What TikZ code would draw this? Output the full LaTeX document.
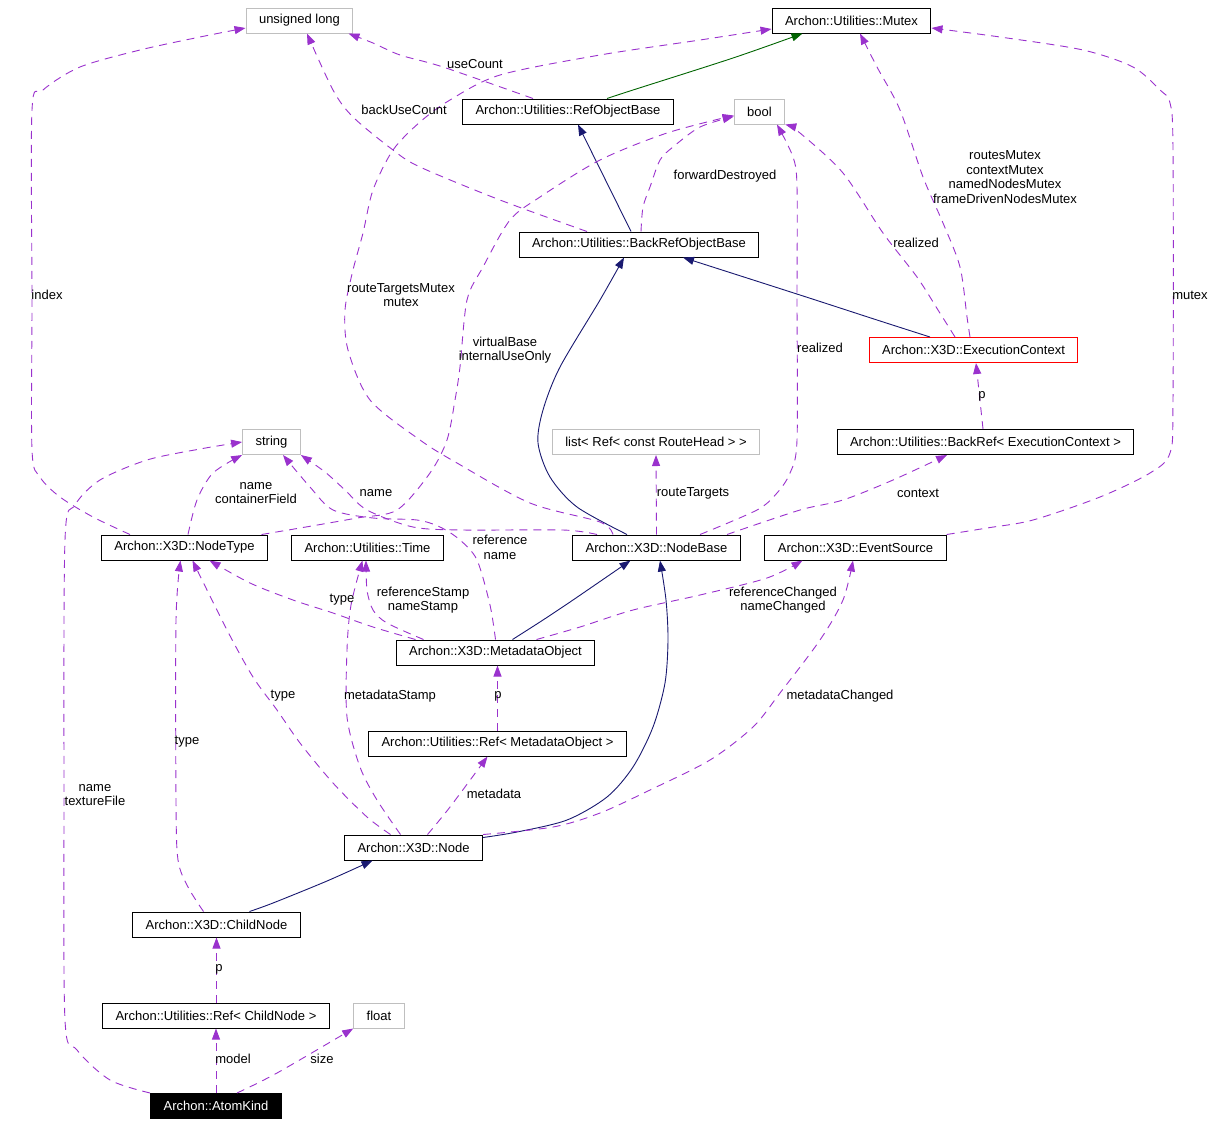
\documentclass[tikz,border=0pt]{standalone}
\usepackage{fontspec}
\setsansfont{Liberation Sans}
\usepackage{tikz}
\usetikzlibrary{arrows.meta}
\definecolor{useCol}{HTML}{9A32CD}
\definecolor{inhCol}{HTML}{191970}
\definecolor{protCol}{HTML}{006400}
\definecolor{extCol}{HTML}{BFBFBF}

\begin{document}
\begin{tikzpicture}[x=1pt, y=-1pt,
  every node/.style={font=\sffamily\fontsize{13}{14.7}\selectfont},
  klass/.style={draw=black, fill=white, line width=1pt, inner xsep=13pt,
             inner ysep=0pt, minimum height=25pt},
  builtin/.style={klass, draw=extCol},
  focus/.style={klass, fill=black, text=white},
  lbl/.style={inner sep=0pt, align=center},
  inherit/.style={-{Triangle[length=11pt, width=8pt]}, draw=inhCol, line width=0.9pt},
  protinherit/.style={inherit, draw=protCol},
  usage/.style={-{Triangle[length=11pt, width=8pt]}, draw=useCol, line width=0.9pt,
             dash pattern=on 8pt off 6pt},
]
\useasboundingbox (0,0) rectangle (1217,1125);

% Classes
\node[builtin] (ulong) at (299.5, 20.5) {unsigned long};
\node[klass] (mutex) at (851.5, 20.5) {Archon::Utilities::Mutex};
\node[klass] (refobj) at (568, 111.5) {Archon::Utilities::RefObjectBase};
\node[builtin] (bool) at (759.5, 111.5) {bool};
\node[klass] (backrefobj) at (639, 244.5) {Archon::Utilities::BackRefObjectBase};
\node[klass, draw=red] (ctx) at (973.5, 350) {Archon::X3D::ExecutionContext};
\node[builtin] (str) at (271.5, 442) {string};
\node[builtin] (routes) at (656, 442) {list< Ref< const RouteHead > >};
\node[klass] (backref) at (985.5, 442) {Archon::Utilities::BackRef< ExecutionContext >};
\node[klass] (nodetype) at (184.5, 547.5) {Archon::X3D::NodeType};
\node[klass] (time) at (367.5, 547.5) {Archon::Utilities::Time};
\node[klass] (nodebase) at (656.5, 547.5) {Archon::X3D::NodeBase};
\node[klass] (evsrc) at (855.5, 547.5) {Archon::X3D::EventSource};
\node[klass] (meta) at (495.5, 652.5) {Archon::X3D::MetadataObject};
\node[klass] (metaref) at (497.5, 743.5) {Archon::Utilities::Ref< MetadataObject >};
\node[klass] (x3dnode) at (413.5, 847.5) {Archon::X3D::Node};
\node[klass] (child) at (216.5, 924.5) {Archon::X3D::ChildNode};
\node[klass] (childref) at (216, 1015.5) {Archon::Utilities::Ref< ChildNode >};
\node[builtin] (float) at (379, 1015.5) {float};
\node[focus] (atom) at (216, 1106) {Archon::AtomKind};

% Inheritance
\draw[protinherit] plot[smooth] coordinates {([xshift=39]refobj.north) (633,90) (733,58) ([xshift=-49]mutex.south)};
\draw[inherit] ([xshift=-8]backrefobj.north) -- ([xshift=10]refobj.south);
\draw[inherit] plot[smooth] coordinates {([xshift=-29.5]nodebase.north) (577,507) (550,477) (538,443) (543,410) (560,367) (600,300) ([xshift=-15]backrefobj.south)};
\draw[inherit] plot[smooth] coordinates {([xshift=-43.5]ctx.north) (877,320) (800,295) ([xshift=44]backrefobj.south)};
\draw[inherit] plot[smooth] coordinates {([xshift=17]meta.north) (543,620) (573,600) ([xshift=-26]nodebase.south)};
\draw[inherit] plot[smooth] coordinates {([yshift=-3]x3dnode.north east) (517,832) (567,820) (607,797) (633,767) (653,727) (665,683) (668,640) (666,600) ([xshift=3.5]nodebase.south)};
\draw[inherit] plot[smooth] coordinates {([xshift=33]child.north) (273,903) (327,881) ([xshift=-41]x3dnode.south)};

% Usage
\draw[usage] plot[smooth] coordinates {(atom.north west) (110,1080) (77,1050) (65,1020) (64,800) (65,540) (75,505) (100,480) (147,460) (200,449) (str.west)};
\draw[usage] (atom.north) -- (childref.south);
\draw[usage] plot[smooth] coordinates {([xshift=21]atom.north) (277,1073) (float.south west)};
\draw[usage] ([xshift=0.5]childref.north) -- (child.south);
\draw[usage] plot[smooth] coordinates {([xshift=-13]child.north) (188,887) (178,860) (176,800) (176,620) ([xshift=-4]nodetype.south)};
\draw[usage] plot[smooth] coordinates {([xshift=-23]x3dnode.north) (367,817) (333,783) (300,743) (277,710) (253,677) (227,630) ([xshift=8]nodetype.south)};
\draw[usage] plot[smooth] coordinates {([xshift=-13]x3dnode.north) (377,800) (360,767) (347,717) (347,650) (351,605) ([xshift=-5]time.south)};
\draw[usage] plot[smooth] coordinates {([xshift=14]x3dnode.north) (450,807) ([xshift=-10]metaref.south)};
\draw[usage] plot[smooth] coordinates {(x3dnode.north east) (553,827) (600,813) (650,790) (710,760) (753,727) (780,693) (820,640) (843,600) ([xshift=-2.5]evsrc.south)};
\draw[usage] (metaref.north) -- ([xshift=2]meta.south);
\draw[usage] plot[smooth] coordinates {([xshift=-80]meta.north) (373,627) (333,613) (293,600) (250,583) ([xshift=25]nodetype.south)};
\draw[usage] plot[smooth] coordinates {([xshift=-72]meta.north) (387,623) (373,610) (367,590) ([xshift=-1.5]time.south)};
\draw[usage] plot[smooth] coordinates {([xshift=41]meta.north) (580,627) (633,610) (700,595) (767,578) ([xshift=-53]evsrc.south)};
\draw[usage] plot[smooth] coordinates {(meta.north) (490,605) (477,560) (460,540) (440,527) (417,520) (373,518) (333,510) (310,487) ([xshift=11.5]str.south)};
\draw[usage] plot[smooth] coordinates {([xshift=3.5]nodetype.north) (197,500) (213,473) (str.south west)};
\draw[usage] plot[smooth] coordinates {([xshift=-54.5]nodetype.north) (93,517) (60,497) (40,477) (32,450) (32,300) (32,110) (43,90) (80,67) (140,50) (200,37) ([yshift=-7.5]ulong.west)};
\draw[usage] plot[smooth] coordinates {([xshift=77]nodetype.north) (300,528) (357,518) (397,510) (430,473) (447,440) (455,400) (460,367) (467,300) (483,267) (510,220) (540,197) (600,160) (667,133) ([yshift=-4]bool.west)};
\draw[usage] plot[smooth] coordinates {([xshift=-59.5]nodebase.north) (563,530) (463,530) (413,527) (367,510) (345,490) (325,472) (str.south east)};
\draw[usage] plot[smooth] coordinates {([xshift=-43.5]nodebase.north) (600,522) (530,503) (457,463) (420,440) (370,400) (348,350) (345,310) (353,270) (363,233) (373,190) (393,150) (420,122) (450,100) (500,75) (600,55) (700,40) ([yshift=-8.5]mutex.west)};
\draw[usage] plot[smooth] coordinates {([xshift=-52]backrefobj.north) (500,200) (420,167) (393,150) (353,117) (333,90) ([xshift=7.5]ulong.south)};
\draw[usage] plot[smooth] coordinates {([xshift=-35]refobj.north) (443,67) (400,55) (373,43) ([xshift=-5]ulong.south east)};
\draw[usage] plot[smooth] coordinates {([xshift=2]backrefobj.north) (643,207) (650,187) (660,160) (673,147) (700,127) ([yshift=-5]bool.west)};
\draw[usage] plot[smooth] coordinates {([xshift=43.5]nodebase.north) (757,510) (777,493) (790,473) (797,440) (797,300) (797,187) (793,157) ([xshift=17.5]bool.south)};
\draw[usage] (nodebase.north) -- (routes.south);
\draw[usage] plot[smooth] coordinates {([xshift=70.5]nodebase.north) (800,510) (843,500) (893,480) ([xshift=-38.5]backref.south)};
\draw[usage] plot[smooth] coordinates {([xshift=-18.5]ctx.north) (938,310) (917,277) (883,233) (843,173) (800,133) (bool.south east)};
\draw[usage] plot[smooth] coordinates {([xshift=-3.5]ctx.north) (967,317) (960,267) (943,223) (923,177) (900,110) (877,67) ([xshift=8.5]mutex.south)};
\draw[usage] ([xshift=-2.5]backref.north) -- ([xshift=2.5]ctx.south);
\draw[usage] plot[smooth] coordinates {(evsrc.north east) (987,528) (1033,520) (1100,497) (1150,473) (1170,453) (1173,400) (1173,150) (1170,103) (1160,90) (1133,67) (1083,50) (1000,37) ([yshift=-7.5]mutex.east)};

% Labels
\node[lbl] (l-texture) at (95, 795) {name\\textureFile};
\node[lbl] (l-model) at (233, 1059) {model};
\node[lbl] (l-size) at (322, 1059) {size};
\node[lbl] (l-childp) at (219, 969) {p};
\node[lbl] (l-type1) at (187, 742) {type};
\node[lbl] (l-type2) at (283, 696) {type};
\node[lbl] (l-mstamp) at (390, 696) {metadataStamp};
\node[lbl] (l-metadata) at (494, 794) {metadata};
\node[lbl] (l-mchanged) at (840, 696) {metadataChanged};
\node[lbl] (l-metap) at (498, 696) {p};
\node[lbl] (l-type3) at (342, 600) {type};
\node[lbl] (l-stamps) at (423, 600) {referenceStamp\\nameStamp};
\node[lbl] (l-changed) at (783, 600) {referenceChanged\\nameChanged};
\node[lbl] (l-refname) at (500, 547) {reference\\name};
\node[lbl] (l-container) at (256, 493) {name\\containerField};
\node[lbl] (l-name) at (376, 493) {name};
\node[lbl] (l-index) at (47, 295) {index};
\node[lbl] (l-virtual) at (505, 350) {virtualBase\\internalUseOnly};
\node[lbl] (l-rtmutex) at (401, 295) {routeTargetsMutex\\mutex};
\node[lbl] (l-backuse) at (404, 110) {backUseCount};
\node[lbl] (l-usecount) at (475, 64) {useCount};
\node[lbl] (l-fwd) at (725, 176) {forwardDestroyed};
\node[lbl] (l-realized1) at (820, 348) {realized};
\node[lbl] (l-routes) at (693, 493) {routeTargets};
\node[lbl] (l-context) at (918, 493) {context};
\node[lbl] (l-realized2) at (916, 243) {realized};
\node[lbl] (l-ctxmutex) at (1005, 177) {routesMutex\\contextMutex\\namedNodesMutex\\frameDrivenNodesMutex};
\node[lbl] (l-ctxp) at (982, 396) {p};
\node[lbl] (l-mutex) at (1190, 295) {mutex};

\end{tikzpicture}
\end{document}
